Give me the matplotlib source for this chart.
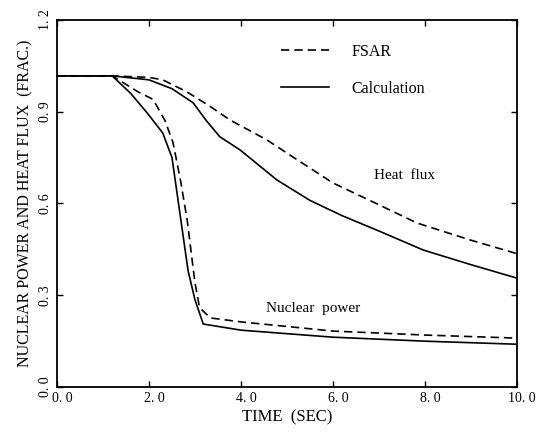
import matplotlib
matplotlib.use('Agg')
import matplotlib.pyplot as plt
import matplotlib.transforms as mtransforms
import numpy as np

# nuclear power, calculation
np_calc_t = [0.0, 1.2, 1.6, 1.96, 2.3, 2.5, 2.67, 2.85, 3.0, 3.18, 4.0, 6.0, 8.0, 10.0]
np_calc_y = [1.017, 1.017, 0.96, 0.896, 0.83, 0.75, 0.57, 0.38, 0.285, 0.206, 0.186, 0.163, 0.150, 0.140]

# nuclear power, FSAR
np_fsar_t = [0.0, 1.2, 1.76, 2.09, 2.35, 2.52, 2.68, 2.83, 3.0, 3.1, 3.33, 4.0, 6.0, 8.0, 10.0]
np_fsar_y = [1.017, 1.017, 0.965, 0.94, 0.87, 0.80, 0.68, 0.546, 0.34, 0.26, 0.226, 0.213, 0.183, 0.170, 0.160]

# heat flux, calculation
hf_calc_t = [0.0, 1.2, 2.0, 2.5, 2.96, 3.25, 3.54, 3.98, 4.78, 5.5, 6.2, 7.0, 7.96, 9.0, 10.0]
hf_calc_y = [1.017, 1.017, 1.004, 0.975, 0.929, 0.87, 0.818, 0.775, 0.677, 0.61, 0.56, 0.51, 0.448, 0.40, 0.356]

# heat flux, FSAR
hf_fsar_t = [0.0, 1.2, 2.0, 2.3, 2.82, 3.3, 3.76, 4.56, 5.2, 6.0, 6.8, 7.83, 9.0, 10.0]
hf_fsar_y = [1.017, 1.017, 1.012, 1.004, 0.965, 0.92, 0.873, 0.808, 0.745, 0.667, 0.61, 0.536, 0.48, 0.436]

x_ticks = [0, 2, 4, 6, 8, 10]
x_labels = ['0. 0', '2. 0', '4. 0', '6. 0', '8. 0', '10. 0']
y_ticks = [0.0, 0.3, 0.6, 0.9, 1.2]
y_labels = ['0. 0', '0. 3', '0. 6', '0. 9', '1. 2']

plt.rcParams['font.family'] = ['Liberation Serif', 'DejaVu Serif']

fig = plt.figure(figsize=(5.43, 4.32), dpi=100)
ax = fig.add_axes([0.105, 0.104, 0.847, 0.850])

lw = 1.2
dash = (5, 3)
ax.plot(hf_fsar_t, hf_fsar_y, color='black', lw=lw, dashes=dash, label='FSAR')
ax.plot(hf_calc_t, hf_calc_y, color='black', lw=lw, label='Calculation')
ax.plot(np_fsar_t, np_fsar_y, color='black', lw=lw, dashes=dash)
ax.plot(np_calc_t, np_calc_y, color='black', lw=lw)

ax.set_xlim(0, 10)
ax.set_ylim(0, 1.2)
ax.set_xticks(x_ticks)
ax.set_xticklabels(x_labels, fontsize=10)
ax.set_yticks(y_ticks)
ax.set_yticklabels(y_labels, fontsize=10, rotation=90, va='center')
ax.tick_params(direction='in', top=True, right=True, length=4, width=1)
for s in ax.spines.values():
    s.set_linewidth(1.3)

# x tick labels sit a little to the right of their ticks in the scan
shift = mtransforms.ScaledTranslation(5 / 100, 0, fig.dpi_scale_trans)
for lab in ax.get_xticklabels():
    lab.set_transform(lab.get_transform() + shift)

ax.set_xlabel('TIME  (SEC)', fontsize=12, labelpad=3)
ax.set_ylabel('NUCLEAR POWER AND HEAT FLUX  (FRAC.)', fontsize=11.5, labelpad=4)

ax.text(6.9, 0.68, 'Heat  flux', fontsize=11)
ax.text(4.55, 0.245, 'Nuclear  power', fontsize=11)

ax.legend(loc='upper left', bbox_to_anchor=(0.455, 0.974), frameon=False,
          fontsize=11.5, handlelength=3.0, handletextpad=1.45, labelspacing=1.3)

fig.savefig('out.png', dpi=100)
